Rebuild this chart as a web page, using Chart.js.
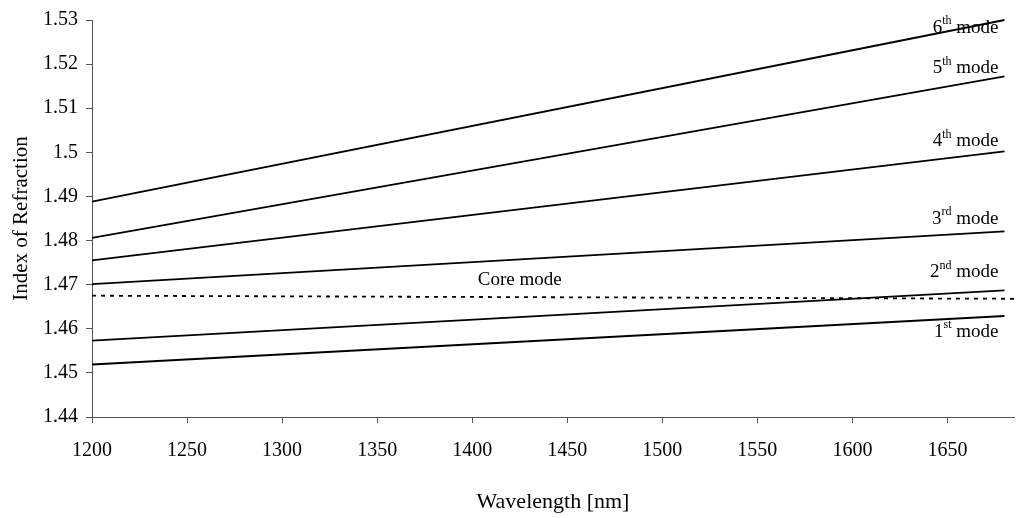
<!DOCTYPE html>
<html>
<head>
<meta charset="utf-8">
<script src="https://cdn.jsdelivr.net/npm/chart.js@4"></script>
<style>
  html, body { margin: 0; padding: 0; background: #fff; }
  #wrap { width: 1016px; height: 518px; }
</style>
</head>
<body>
<div id="wrap"><canvas id="c" width="1016" height="518"></canvas></div>
<script>
const wavelengths = [1200, 1680];
const mode1 = [1.4519, 1.4629];
const mode2 = [1.4573, 1.4687];
const mode3 = [1.4701, 1.4821];
const mode4 = [1.4755, 1.5002];
const mode5 = [1.4806, 1.5172];
const mode6 = [1.4888, 1.5300];
const coreWavelengths = [1200, 1685];
const coreMode = [1.4675, 1.4668];
const modeNames = [['1', 'st'], ['2', 'nd'], ['3', 'rd'], ['4', 'th'], ['5', 'th'], ['6', 'th']];
const coreLabel = 'Core mode';
const coreLabelAt = 1425;
const xTicks = [1200, 1250, 1300, 1350, 1400, 1450, 1500, 1550, 1600, 1650];
const yTicks = [1.44, 1.45, 1.46, 1.47, 1.48, 1.49, 1.5, 1.51, 1.52, 1.53];

const FONT = "'Liberation Serif', 'Times New Roman', serif";
const AXIS = '#555';

const pts = (xs, ys) => xs.map((x, i) => ({ x, y: ys[i] }));
const modes = [mode1, mode2, mode3, mode4, mode5, mode6];

const datasets = modes.map((m, i) => ({
  label: modeNames[i].join('') + ' mode',
  data: pts(wavelengths, m),
  borderColor: '#000',
  borderWidth: 1.8,
  pointRadius: 0,
  clip: false,
}));
datasets.push({
  label: coreLabel,
  data: pts(coreWavelengths, coreMode),
  borderColor: '#000',
  borderWidth: 1.8,
  borderDash: [4, 5],
  pointRadius: 0,
});

// pixel offsets of each mode label from the end of its line
const labelDy = [16, -18, -12, -10, -8, 8];

const modeLabels = {
  id: 'modeLabels',
  afterDatasetsDraw(chart) {
    const { ctx, scales: { x, y } } = chart;
    ctx.save();
    ctx.fillStyle = '#000';
    ctx.textBaseline = 'middle';
    modes.forEach((m, i) => {
      const ex = x.getPixelForValue(wavelengths[wavelengths.length - 1]);
      const ey = y.getPixelForValue(m[m.length - 1]) + labelDy[i];
      const [num, sup] = modeNames[i];
      ctx.font = `19px ${FONT}`;
      const w1 = ctx.measureText(num).width;
      const w3 = ctx.measureText(' mode').width;
      ctx.font = `12px ${FONT}`;
      const w2 = ctx.measureText(sup).width;
      let sx = ex - 6 - (w1 + w2 + w3);
      ctx.font = `19px ${FONT}`;
      ctx.fillText(num, sx, ey);
      ctx.font = `12px ${FONT}`;
      ctx.fillText(sup, sx + w1, ey - 7);
      ctx.font = `19px ${FONT}`;
      ctx.fillText(' mode', sx + w1 + w2, ey);
    });
    ctx.font = `19px ${FONT}`;
    ctx.textAlign = 'center';
    const cy = y.getPixelForValue(coreMode[0] + (coreMode[1] - coreMode[0]) * (coreLabelAt - 1200) / 485);
    ctx.fillText(coreLabel, x.getPixelForValue(coreLabelAt), cy - 17);
    ctx.restore();
  },
};

new Chart(document.getElementById('c').getContext('2d'), {
  type: 'line',
  data: { datasets },
  plugins: [modeLabels],
  options: {
    responsive: false,
    animation: false,
    layout: { padding: { top: 15, right: 2, left: 0, bottom: 0 } },
    plugins: { legend: { display: false }, tooltip: { enabled: false } },
    scales: {
      x: {
        type: 'linear',
        min: 1200,
        max: 1685,
        afterBuildTicks: s => { s.ticks = xTicks.map(v => ({ value: v })); },
        afterFit: s => { s.height = 101; },
        ticks: { color: '#000', padding: 16, font: { family: FONT, size: 20 }, maxRotation: 0, autoSkip: false, callback: v => String(v) },
        grid: { drawOnChartArea: false, drawTicks: true, tickLength: 6, color: AXIS },
        border: { color: AXIS, width: 1 },
        title: { display: true, text: 'Wavelength [nm]', color: '#000', font: { family: FONT, size: 22 }, padding: { top: 0, bottom: 3 } },
      },
      y: {
        min: 1.44,
        max: 1.53,
        afterBuildTicks: s => { s.ticks = yTicks.map(v => ({ value: v })); },
        afterFit: s => { s.width = 92; },
        ticks: { color: '#000', padding: 8, font: { family: FONT, size: 20 }, autoSkip: false, callback: v => String(+v.toFixed(2)) },
        grid: { drawOnChartArea: false, drawTicks: true, tickLength: 6, color: AXIS },
        border: { color: AXIS, width: 1 },
        title: { display: true, text: 'Index of Refraction', color: '#000', font: { family: FONT, size: 21 }, padding: { top: 9, bottom: 0 } },
      },
    },
  },
});
</script>
</body>
</html>
